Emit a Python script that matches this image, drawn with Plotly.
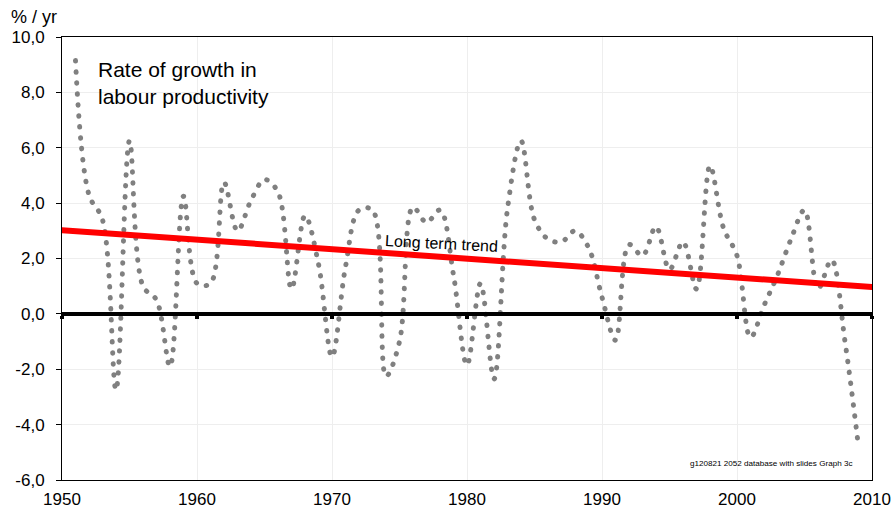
import plotly.graph_objects as go

years = list(range(1951, 2010))
growth = [9.15, 4.3, 3.4, -2.75, 6.25, 1.0, 0.5, -1.9, 4.25, 1.1,
          1.1, 4.75, 3.0, 4.1, 4.85, 4.4, 0.9, 3.55, 1.8, -1.55,
          1.7, 3.75, 3.75, -2.25, -1.0, 3.85, 3.3, 3.75, 1.4, -1.85,
          1.1, -2.35, 3.8, 6.25, 3.4, 2.7, 2.6, 3.0, 2.4, 0.6,
          -0.95, 2.5, 2.1, 3.15, 1.6, 2.6, 0.9, 5.35, 3.1, 2.1,
          -0.85, 0.3, 1.4, 2.7, 3.75, 0.9, 1.95, -1.0, -4.8]

trend_years = [1950, 2010]
trend_vals = [3.02, 0.97]

x_ticks = [1950, 1960, 1970, 1980, 1990, 2000, 2010]
y_ticks = [-6, -4, -2, 0, 2, 4, 6, 8, 10]
y_ticktext = ["-6,0", "-4,0", "-2,0", "0,0", "2,0", "4,0", "6,0", "8,0", "10,0"]

FONT = "Arial, Liberation Sans, sans-serif"

fig = go.Figure()
fig.add_trace(go.Scatter(
    x=years, y=growth, mode="lines",
    line=dict(color="#808080", width=5, dash="0.5px,10.5px", shape="spline", smoothing=1),
    hoverinfo="skip", showlegend=False,
))
fig.add_trace(go.Scatter(
    x=trend_years, y=trend_vals, mode="lines", xaxis="x2",
    line=dict(color="#FF0000", width=6),
    hoverinfo="skip", showlegend=False,
))

fig.update_layout(
    width=892, height=513, autosize=False,
    margin=dict(l=62, r=20, t=37, b=33, autoexpand=False),
    paper_bgcolor="white", plot_bgcolor="white",
    font=dict(family=FONT, color="black"),
    xaxis=dict(
        range=[1950, 2010], tickvals=x_ticks, ticks="", automargin=False,
        showgrid=True, gridcolor="#EEEEEE", gridwidth=1,
        showline=True, mirror=True, linecolor="black", linewidth=1,
        zeroline=False, tickfont=dict(size=17, family=FONT),
        ticklabelstandoff=4,
    ),
    xaxis2=dict(
        range=[1950, 2010], tickvals=x_ticks, overlaying="x", automargin=False,
        anchor="free", position=0.375, side="bottom",
        showline=True, linecolor="black", linewidth=4,
        ticks="outside", ticklen=3, tickwidth=4, tickcolor="black",
        showticklabels=False, showgrid=False, zeroline=False,
    ),
    yaxis=dict(
        range=[-6, 10], tickvals=y_ticks, ticktext=y_ticktext, automargin=False,
        ticks="outside", ticklen=5, tickcolor="black",
        showgrid=True, gridcolor="#EEEEEE", gridwidth=1,
        showline=True, mirror=True, linecolor="black", linewidth=1,
        zeroline=False, tickfont=dict(size=17, family=FONT),
        ticklabelstandoff=8,
    ),
    annotations=[
        dict(text="% / yr", xref="paper", yref="paper", x=-0.066, y=1.045,
             xanchor="left", yanchor="middle", showarrow=False,
             font=dict(size=18, family=FONT)),
        dict(text="Rate of growth in<br>labour productivity", xref="x", yref="y",
             x=1952.5, y=9.3, xanchor="left", yanchor="top", align="left",
             showarrow=False, font=dict(size=21, family=FONT)),
        dict(text="Long term trend", xref="x", yref="y", x=1978.1, y=2.56,
             xanchor="center", yanchor="middle", textangle=3, showarrow=False,
             font=dict(size=16, family=FONT)),
        dict(text="g120821 2052 database with slides Graph 3c", xref="x", yref="y",
             x=2002.5, y=-5.42, xanchor="center", yanchor="middle", showarrow=False,
             font=dict(size=8.1, family=FONT)),
    ],
)

post = """
document.body.style.margin = '0';
document.body.style.overflow = 'hidden';
var st = document.createElement('style');
st.textContent = '.scatterlayer .trace path.js-line { stroke-linecap: round; }';
document.head.appendChild(st);
"""

fig.write_html("out.html", post_script=post, config={"displayModeBar": False})
